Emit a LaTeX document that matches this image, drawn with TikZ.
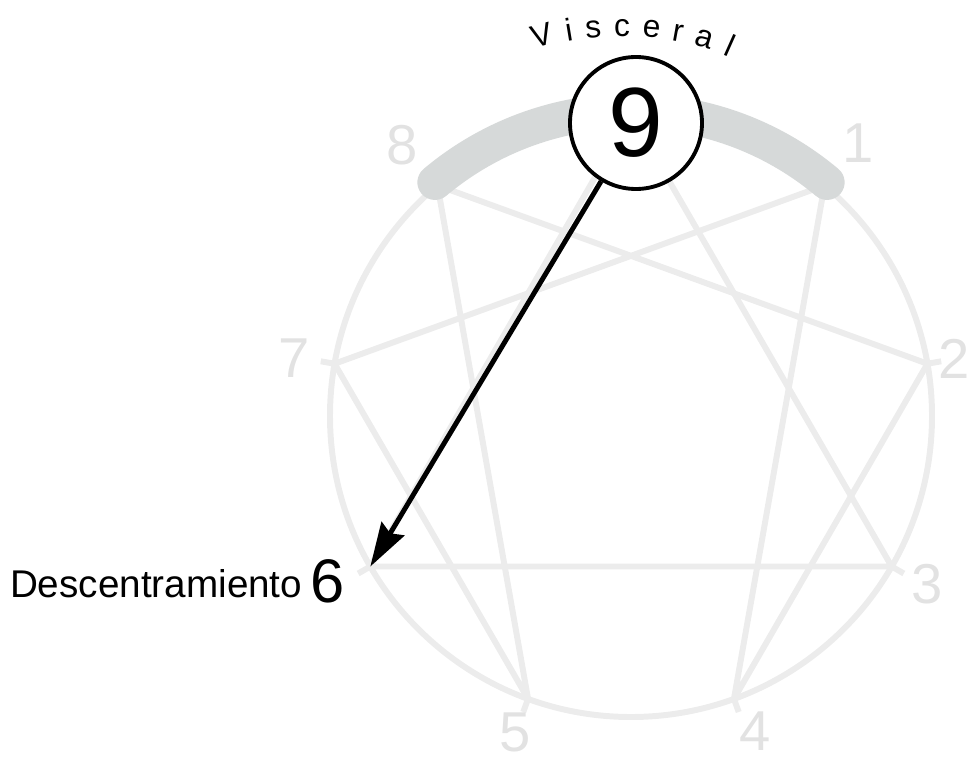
\documentclass[tikz,border=0pt]{standalone}
\usepackage{fontspec}
\setmainfont{Liberation Sans}
\usetikzlibrary{arrows.meta,positioning,decorations.text}
\definecolor{ringgray}{RGB}{236,236,236}
\definecolor{bandgray}{RGB}{214,217,217}
\definecolor{numgray}{RGB}{226,226,226}
\tikzset{ringline/.style={draw=ringgray, line width=3.4pt, line join=round},
  band/.style={draw=bandgray, line width=20pt, line cap=round},
  num/.style={text=numgray, inner sep=0pt, font=\fontsize{32}{32}\selectfont},
  ninebox/.style={circle, draw, fill=white, line width=2.2pt, minimum size=2.64cm, inner sep=0pt, font=\fontsize{56}{56}\selectfont},
  sixnum/.style={inner sep=0pt, font=\fontsize{35}{35}\selectfont},
  desc/.style={inner sep=0pt, font=\fontsize{22}{22}\selectfont},
  pointer/.style={line width=2.8pt, -{Stealth[length=25pt, width=15pt, inset=3pt]}}}

\begin{document}
\begin{tikzpicture}
    \useasboundingbox (-12.62,-6.92) rectangle (6.82,8.32);
    \foreach \n/\a in {9/90, 1/50, 2/10, 3/-30, 4/-70, 5/-110, 6/-150, 7/170, 8/130}
        \coordinate (p\n) at (\a:6.02);
    \draw[ringline] (0,0) circle (6.02);
    \draw[ringline] (p9) -- (p3) -- (p6) -- cycle;
    \draw[ringline] (p1) -- (p4) -- (p2) -- (p8) -- (p5) -- (p7) -- cycle;
    \foreach \a in {50, 10, -30, -70, -110, -150, 170, 130}
        \draw[ringline] (\a:6.02) -- (\a:6.3);
    \draw[band] (130:6.1) arc (130:50:6.1);
    % outer numbers
    \node[num] (l1) at (4.54,5.46) {1};
    \node[num] (l2) at (6.46,1.14) {2};
    \node[num] (l3) at (5.92,-3.36) {3};
    \node[num] (l4) at (2.48,-6.3) {4};
    \node[num] (l5) at (-2.32,-6.32) {5};
    \node[num] (l7) at (-6.74,1.16) {7};
    \node[num] (l8) at (-4.58,5.42) {8};
    \node[ninebox] (n9) at (0.1,5.86) {9};
    \node[sixnum] (l6) at (-6.06,-3.3) {6};
    \node[desc, base left=4.5pt of l6, yshift=2.5pt] (d6) {Descentramiento};
    \draw[pointer] (n9) -- (p6);
    \path[decorate, decoration={text along path, text align=fit to path,
        text={|\fontsize{18}{18}\selectfont|Visceral}}]
        (-1.92,7.34) .. controls (-0.8,7.7) and (0.85,7.7) .. (1.95,7.18);
\end{tikzpicture}
\end{document}
